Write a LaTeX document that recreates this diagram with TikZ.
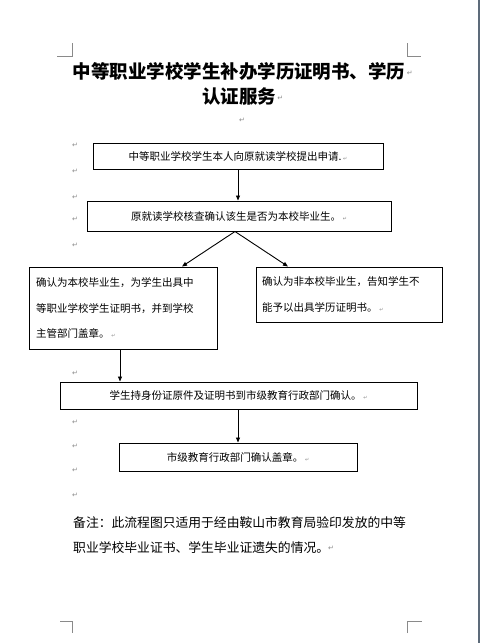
\documentclass[tikz,border=0pt]{standalone}
\usepackage{fontspec}
\setmainfont{Noto Sans CJK SC}
\newfontfamily\symfont{DejaVu Sans}
\usetikzlibrary{arrows.meta}
\definecolor{markgray}{HTML}{8A8A8A}
\definecolor{edgeblue}{HTML}{5D6B7A}
\newcommand{\retmark}{{\symfont\color{markgray}\fontsize{7}{7}\selectfont ↵}}
\newcommand{\tailmark}{\,{\symfont\color{markgray}\fontsize{5}{5}\selectfont ↵}}
\tikzset{
  flowbox/.style={draw=black, line width=1pt, rectangle, inner sep=0pt, font=\fontsize{10.5}{25.5}\selectfont},
  flowarrow/.style={draw=black, line width=0.9pt, -{Triangle[length=5pt,width=4pt]}},
  cornermark/.style={draw=markgray, line width=0.7pt},
  pmark/.style={inner sep=0pt, anchor=center}
}
\begin{document}
\begin{tikzpicture}[x=1pt,y=-1pt]
\useasboundingbox[fill=white] (0,0) rectangle (481,643);
% page edge
\draw[edgeblue, line width=2pt] (479.3,0) -- (479.3,643);
% corner marks
\draw[cornermark] (57,56) -- (72,56) -- (72,43);
\draw[cornermark] (407,43) -- (407,56) -- (421,56);
\draw[cornermark] (60,621) -- (72,621) -- (72,633);
\draw[cornermark] (407,633) -- (407,621) -- (422,621);
% title
\node[inner sep=0pt, font=\fontsize{18.5}{18.5}\selectfont\bfseries] (t1) at (239,71) {中等职业学校学生补办学历证明书、学历};
\node[pmark, anchor=west] (t1m) at ([xshift=1pt,yshift=-2pt]t1.east) {\retmark};
\node[inner sep=0pt, font=\fontsize{18.5}{18.5}\selectfont\bfseries] (t2) at (239,96) {认证服务};
\node[pmark, anchor=west] (t2m) at ([xshift=1pt,yshift=-2pt]t2.east) {\retmark};
\node[pmark] (t3m) at (242,120) {\retmark};
% left paragraph marks
\foreach \yy [count=\i] in {145,171,197,219,245,373,422,446,470,495}
  \node[pmark] (pm\i) at (75,\yy) {\retmark};
% boxes
\node[flowbox, minimum width=290pt, minimum height=26pt] (b1) at (238,156) {中等职业学校学生本人向原就读学校提出申请.\tailmark};
\node[flowbox, minimum width=304pt, minimum height=30pt] (b2) at (239,216) {原就读学校核查确认该生是否为本校毕业生。\tailmark};
\node[flowbox, minimum width=188pt, minimum height=82pt, text width=174pt, inner xsep=7pt, align=left] (bl) at (123,308) {确认为本校毕业生，为学生出具中\\等职业学校学生证明书，并到学校\\主管部门盖章。\tailmark};
\node[flowbox, minimum width=186pt, minimum height=55pt, text width=174pt, inner xsep=6pt, align=left] (br) at (349,294.5) {确认为非本校毕业生，告知学生不\\能予以出具学历证明书。\tailmark};
\node[flowbox, minimum width=357pt, minimum height=27pt] (b3) at (238.5,395.5) {学生持身份证原件及证明书到市级教育行政部门确认。\tailmark};
\node[flowbox, minimum width=238pt, minimum height=28pt] (b4) at (238,457) {市级教育行政部门确认盖章。\tailmark};
% arrows
\draw[flowarrow] (b1.south) -- (b1.south |- b2.north);
\coordinate (b2s) at ([xshift=-4pt]b2.south);
\draw[flowarrow] (b2s) -- ([xshift=59pt]bl.north);
\draw[flowarrow] (b2s) -- ([xshift=-61pt]br.north);
\draw[flowarrow] ([xshift=-3pt]bl.south) -- ([xshift=-3pt]bl.south |- b3.north);
\draw[flowarrow] (b3.south -| b4.north) -- (b4.north);
% note
\node[inner sep=0pt, anchor=west, font=\fontsize{12.8}{12.8}\selectfont] (n1) at (73,523) {备注：此流程图只适用于经由鞍山市教育局验印发放的中等};
\node[inner sep=0pt, anchor=west, font=\fontsize{12.8}{12.8}\selectfont] (n2) at (73,548) {职业学校毕业证书、学生毕业证遗失的情况。};
\node[pmark] (n2m) at (331,548) {\retmark};
\end{tikzpicture}
\end{document}
